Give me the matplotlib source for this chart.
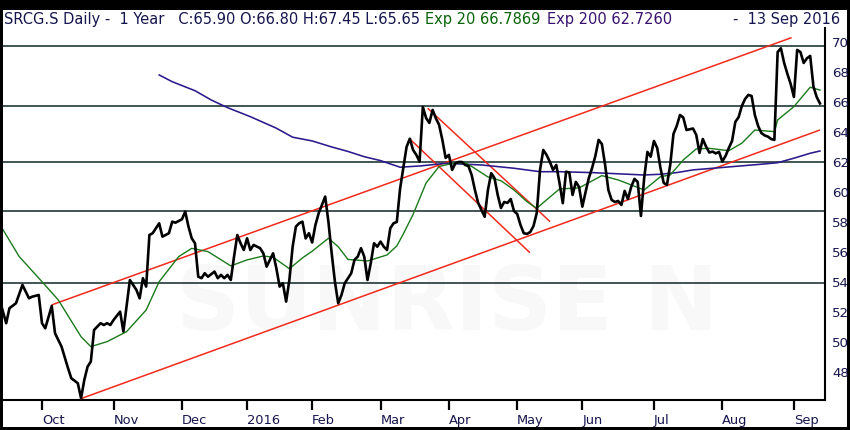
import numpy as np
import pandas as pd
import matplotlib
matplotlib.use("Agg")
import matplotlib.pyplot as plt
from matplotlib.patches import Rectangle

# ---------------- data ----------------
start_date = "2015-09-14"
end_date = "2016-09-13"
six_holidays = ["2015-12-24", "2015-12-25", "2015-12-31", "2016-01-01",
                "2016-03-25", "2016-03-28", "2016-05-05", "2016-05-16",
                "2016-08-01"]

# trading-day number (0 = 14 Sep 2015) and close
price_day = [0, 2, 3, 5, 7, 9, 10, 12, 13, 14, 16, 17, 19, 21, 22, 24, 25, 26, 27, 28,
             29, 30, 31, 32, 33, 34, 35, 37, 38, 40, 41, 42, 43, 44, 45, 46, 47, 49, 50, 52,
             53, 54, 56, 57, 58, 59, 60, 61, 62, 63, 64, 66, 67, 68, 69, 70, 71, 72, 73, 74,
             75, 76, 77, 78, 80, 81, 82, 84, 85, 86, 87, 88, 89, 90, 91, 92, 93, 94, 95, 96,
             97, 98, 100, 101, 102, 103, 104, 105, 106, 108, 109, 110, 111, 112, 113, 114, 115, 116, 117, 118,
             119, 120, 121, 122, 123, 124, 125, 126, 127, 128, 129, 130, 131, 132, 133, 134, 135, 136, 137, 138,
             139, 140, 141, 142, 143, 144, 145, 146, 147, 148, 149, 150, 151, 152, 153, 154, 155, 156, 157, 158,
             159, 160, 161, 162, 163, 164, 165, 166, 167, 168, 169, 170, 171, 172, 173, 174, 175, 176, 177, 178,
             179, 180, 181, 182, 183, 184, 185, 186, 187, 188, 189, 190, 191, 192, 193, 194, 195, 196, 197, 198,
             199, 200, 201, 202, 203, 204, 205, 206, 207, 208, 209, 210, 211, 212, 213, 214, 215, 216, 217, 218,
             219, 220, 221, 222, 223, 224, 225, 226, 227, 228, 229, 230, 231, 232, 233, 234, 235, 236, 237, 238,
             239, 240, 241, 242, 243, 244, 245, 246, 247, 248, 249, 250, 251, 252]
price_close = [52.80, 51.25, 52.25, 52.58, 53.80, 52.91, 53.02, 53.13, 51.25, 50.91, 52.40, 50.58, 49.69, 48.25, 47.58, 47.25, 46.25, 47.47, 48.35, 48.69,
               50.80, 51.02, 51.25, 51.13, 51.25, 51.13, 51.47, 52.02, 50.69, 54.13, 53.80, 53.47, 52.91, 54.25, 53.69, 57.13, 57.25, 57.91, 57.02, 57.25,
               58.02, 57.95, 58.18, 58.69, 57.69, 56.91, 56.58, 54.35, 54.25, 54.58, 54.35, 54.69, 54.25, 54.47, 54.25, 54.47, 54.13, 55.69, 57.13, 56.58,
               56.13, 56.91, 56.13, 56.47, 56.25, 55.91, 55.02, 55.91, 54.91, 53.69, 53.91, 52.69, 54.13, 56.35, 57.69, 57.91, 58.02, 56.90, 57.25, 56.63,
               57.80, 58.58, 59.69, 58.00, 55.90, 54.00, 52.58, 53.13, 53.91, 54.58, 55.47, 55.69, 56.25, 55.69, 54.13, 55.25, 56.58, 56.35, 56.69, 56.35,
               56.13, 57.58, 57.91, 58.00, 60.20, 61.60, 63.00, 63.55, 62.80, 62.47, 62.02, 65.67, 64.93, 64.60, 65.47, 64.91, 64.47, 63.47, 62.27, 62.47,
               61.47, 61.91, 62.00, 62.00, 61.80, 61.73, 61.13, 60.13, 59.27, 58.80, 58.35, 60.13, 61.25, 60.93, 59.80, 58.93, 59.33, 59.27, 59.53, 58.73,
               58.53, 57.80, 57.25, 57.20, 57.33, 57.73, 58.60, 61.47, 62.80, 62.47, 62.02, 61.47, 61.80, 60.58, 59.25, 61.35, 61.30, 59.80, 60.67, 60.33,
               59.02, 60.00, 60.93, 61.60, 62.40, 63.47, 63.20, 61.80, 60.13, 59.47, 59.33, 59.40, 59.13, 60.07, 59.53, 60.33, 60.87, 60.67, 58.40, 60.93,
               62.67, 62.35, 63.40, 62.93, 61.60, 60.60, 60.47, 61.80, 63.87, 64.40, 65.13, 64.97, 64.13, 64.18, 64.23, 63.80, 62.60, 63.53, 63.03, 62.63,
               62.69, 62.57, 62.67, 62.03, 62.40, 62.93, 63.40, 64.67, 64.98, 65.73, 66.20, 66.47, 66.40, 65.13, 64.40, 63.93, 63.77, 63.69, 63.53, 63.47,
               69.33, 69.58, 68.60, 67.87, 67.20, 66.33, 69.47, 69.33, 68.60, 68.91, 69.07, 67.02, 66.33, 65.90]

ema20_day = [0, 6, 13, 18, 25, 28, 33, 39, 45, 49, 55, 59, 64, 71, 76, 81, 84, 89, 93, 96,
             101, 104, 107, 113, 119, 122, 124, 127, 131, 135, 139, 143, 145, 150, 154, 158, 162, 165, 168, 172,
             178, 185, 190, 194, 198, 203, 206, 210, 214, 218, 224, 228, 232, 238, 239, 244, 249, 252]
ema20_val = [57.85, 55.69, 54.02, 52.80, 50.35, 49.69, 50.02, 50.69, 52.13, 54.02, 55.69, 56.24, 56.02, 55.07, 55.47, 55.73, 55.65, 54.88, 55.60, 56.05,
             56.91, 56.35, 55.50, 55.40, 55.80, 56.40, 57.20, 58.50, 60.60, 61.70, 61.90, 61.95, 61.70, 61.00, 60.75, 60.13, 59.35, 58.91, 59.47, 60.20,
             60.27, 61.09, 60.80, 60.47, 60.13, 61.02, 61.13, 62.13, 62.87, 62.91, 62.75, 63.25, 64.13, 64.02, 64.80, 65.69, 66.98, 66.79]

ema200_day = [49, 53, 60, 65, 70, 77, 85, 90, 96, 102, 107, 112, 117, 123, 129, 137, 148, 158, 166, 172,
              182, 193, 198, 203, 208, 213, 223, 234, 239, 244, 249, 252]
ema200_val = [67.80, 67.35, 66.75, 66.13, 65.62, 65.02, 64.25, 63.65, 63.40, 63.00, 62.70, 62.35, 62.09, 61.65, 61.73, 61.91, 61.80, 61.58, 61.35, 61.35,
              61.29, 61.18, 61.13, 61.18, 61.29, 61.47, 61.65, 61.85, 61.95, 62.25, 62.58, 62.73]

support_levels = [69.7, 65.7, 62.0, 58.7, 53.93]

channel_upper_day = [16, 243.3]
channel_upper_val = [52.47, 70.29]
channel_lower_day = [24.7, 252]
channel_lower_val = [46.20, 64.13]
down_a_day = [131.5, 169.1]
down_a_val = [65.58, 58.02]
down_b_day = [126.1, 162.9]
down_b_val = [63.51, 55.95]

y_ticks = [48, 50, 52, 54, 56, 58, 60, 62, 64, 66, 68, 70]

title_main = "SRCG.S Daily -  1 Year   C:65.90 O:66.80 H:67.45 L:65.65"
title_ema20 = "Exp 20 66.7869"
title_ema200 = "Exp 200 62.7260"
title_date = "-  13 Sep 2016"
watermark = "SUNRISE N"

# ---------------- calendar ----------------
days = pd.bdate_range(start_date, end_date)
days = days[~days.isin(pd.to_datetime(six_holidays))]
tick_pos, tick_lab = [], []
prev_month = days[0].month
for i, d in enumerate(days):
    if d.month != prev_month:
        tick_pos.append(i)
        tick_lab.append(str(d.year) if d.month == 1 else d.strftime("%b"))
    prev_month = d.month

# ---------------- figure ----------------
W, H = 850, 430
fig = plt.figure(figsize=(W / 100, H / 100), dpi=100)
fig.patch.set_facecolor("black")
fig.patches.append(Rectangle((3 / W, 3 / H), 844 / W, 417 / H, transform=fig.transFigure,
                             facecolor="white", edgecolor="none", zorder=-10))

ax = fig.add_axes([3 / W, 30 / H, 822 / W, 372 / H])
ax.set_facecolor("white")
ax.set_xlim(1.02, 253.55)
ax.set_ylim(46.13, 70.93)

navy = "#16164e"

ax.text(0.54, 0.255, watermark, transform=ax.transAxes, fontsize=64, fontweight="bold",
        color="#f8f8f8", ha="center", va="center", zorder=0)

for lv in support_levels:
    ax.axhline(lv, color="#0e2626", lw=1.1, zorder=2)

red = "#f02a1c"
for dd, vv in [(channel_upper_day, channel_upper_val), (channel_lower_day, channel_lower_val),
               (down_a_day, down_a_val), (down_b_day, down_b_val)]:
    ax.plot(dd, vv, color=red, lw=1.1, zorder=3, solid_capstyle="butt")

ax.plot(ema200_day, ema200_val, color="#2a1a8c", lw=1.15, zorder=4)
ax.plot(ema20_day, ema20_val, color="#1b7a1b", lw=1.0, zorder=4)
ax.plot(price_day, price_close, color="black", lw=1.9, zorder=5, solid_joinstyle="round")

for s in ["left", "top"]:
    ax.spines[s].set_visible(False)
for s in ["right", "bottom"]:
    ax.spines[s].set_linewidth(1.5)
    ax.spines[s].set_color("black")

ax.yaxis.tick_right()
ax.set_yticks(y_ticks)
ax.set_yticklabels([str(v) for v in y_ticks])
ax.tick_params(axis="y", length=0, pad=5, labelsize=9.6, labelcolor=navy)

ax.set_xticks(tick_pos)
ax.set_xticklabels(tick_lab)
ax.tick_params(axis="x", direction="out", length=7, width=1.6, color="black",
               pad=3, labelsize=9.4, labelcolor=navy)
for lbl in ax.get_xticklabels():
    lbl.set_horizontalalignment("left")

# title pieces
ty = 1 - 19.5 / H
t1 = fig.text(4 / W, ty, title_main, color=navy, fontsize=10, va="center", ha="left")
fig.canvas.draw()
r = fig.canvas.get_renderer()
w = t1.get_window_extent(r).width
fs = 10 * 414 / w
t1.set_fontsize(fs)
fig.text(425 / W, ty, title_ema20, color="#0a640a", fontsize=fs, va="center", ha="left")
fig.text(547 / W, ty, title_ema200, color="#38126e", fontsize=fs, va="center", ha="left")
fig.text(840 / W, ty, title_date, color=navy, fontsize=fs, va="center", ha="right")

fig.savefig("out.png", dpi=100, facecolor=fig.get_facecolor())
